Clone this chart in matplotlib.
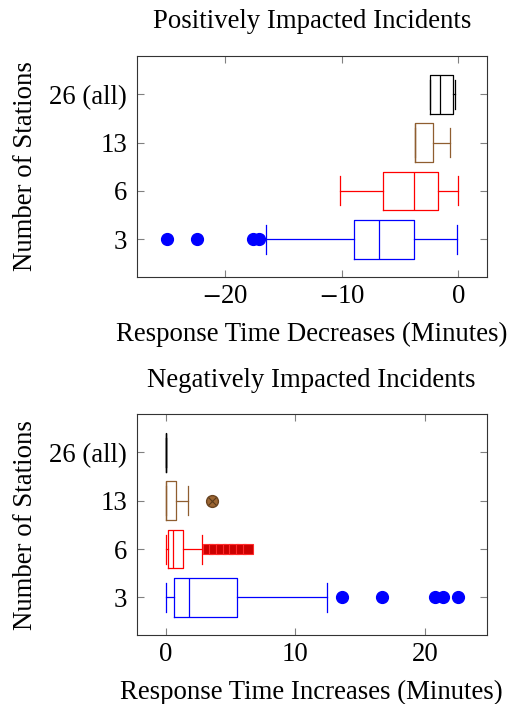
import matplotlib
matplotlib.use("Agg")
import matplotlib.pyplot as plt

plt.rcParams['font.family'] = ['Liberation Serif', 'DejaVu Serif']
plt.rcParams['mathtext.fontset'] = 'stix'

FS = 19.3

stations = ['3', '6', '13', '26 (all)']
colors = ['#0000ff', '#ff0000', '#8f5e30', '#000000']

# positively impacted: (whislo, q1, med, q3, whishi)
pos_stats = [
    (-16.5, -8.9, -6.8, -3.77, -0.14),
    (-10.15, -6.48, -3.77, -1.71, -0.05),
    (-3.71, -3.71, -3.71, -2.14, -0.71),
    (-2.43, -2.43, -1.57, -0.43, -0.28),
]
pos_fliers = [
    [-25.0, -22.4, -17.6, -17.05],
    [],
    [],
    [],
]

# negatively impacted
neg_stats = [
    (0.0, 0.64, 1.80, 5.47, 12.4),
    (0.0, 0.15, 0.59, 1.31, 2.78),
    (0.0, 0.0, 0.0, 0.79, 1.75),
    (0.0, 0.0, 0.0, 0.0, 0.0),
]
neg_fliers = [
    [13.6, 16.65, 20.76, 21.35, 22.5],
    [3.22, 3.72, 4.26, 4.8, 5.27, 5.81, 6.38],
    [3.54],
    [],
]
flier_style = [
    dict(marker='o', markerfacecolor='#0000ff', markeredgecolor='#0000ff', markersize=8.5),
    dict(marker='s', markerfacecolor='#cc0000', markeredgecolor='#ff2a2a', markersize=7.6,
         markeredgewidth=0.8),
    dict(marker='o', markerfacecolor='#9c6633', markeredgecolor='#6b4420', markersize=8.5),
    dict(marker='o', markerfacecolor='k', markeredgecolor='k', markersize=8.5),
]


def draw(ax, stats, fliers, xlim, xticks, title, xlabel):
    for i, (s, fl) in enumerate(zip(stats, fliers)):
        st = dict(whislo=s[0], q1=s[1], med=s[2], q3=s[3], whishi=s[4], fliers=fl)
        c = colors[i]
        lw = 0.9
        ax.bxp([st], positions=[i + 1], widths=0.8, capwidths=0.6, vert=False,
               boxprops=dict(color=c, lw=lw), whiskerprops=dict(color=c, lw=lw),
               capprops=dict(color=c, lw=lw), medianprops=dict(color=c, lw=lw),
               flierprops=dict(flier_style[i], linestyle='none'), manage_ticks=False)
        if i == 2 and fl:
            ax.plot(fl, [i + 1] * len(fl), linestyle='none', marker='x',
                    color='#5a3a1a', markersize=6, mew=0.8)
    ax.set_xlim(xlim)
    ax.set_ylim(0.22, 4.79)
    ax.set_yticks(range(1, 5))
    ax.set_yticklabels(stations)
    ax.set_xticks(xticks)
    ax.set_xticklabels(['$-$%d' % -t if t < 0 else '%d' % t for t in xticks])
    ax.tick_params(direction='in', length=5, color='#808080', labelsize=FS,
                   top=True, right=True)
    ax.tick_params(axis='x', pad=5)
    ax.tick_params(axis='y', pad=7)
    for sp in ax.spines.values():
        sp.set_color('#333333')
        sp.set_linewidth(0.8)
    ax.set_title(title, fontsize=FS, pad=20)
    ax.set_xlabel(xlabel, fontsize=FS, labelpad=9)
    ax.set_ylabel('Number of Stations', fontsize=FS, labelpad=8)


fig = plt.figure(figsize=(5.11, 7.04), dpi=100)
ax1 = fig.add_axes([0.268, 0.6065, 0.685, 0.314])
ax2 = fig.add_axes([0.2675, 0.098, 0.685, 0.3135])

draw(ax1, pos_stats, pos_fliers, (-27.54, 2.46), [-20, -10, 0],
     'Positively Impacted Incidents', 'Response Time Decreases (Minutes)')
draw(ax2, neg_stats, neg_fliers, (-2.24, 24.75), [0, 10, 20],
     'Negatively Impacted Incidents', 'Response Time Increases (Minutes)')

fig.savefig('out.png', dpi=100)
